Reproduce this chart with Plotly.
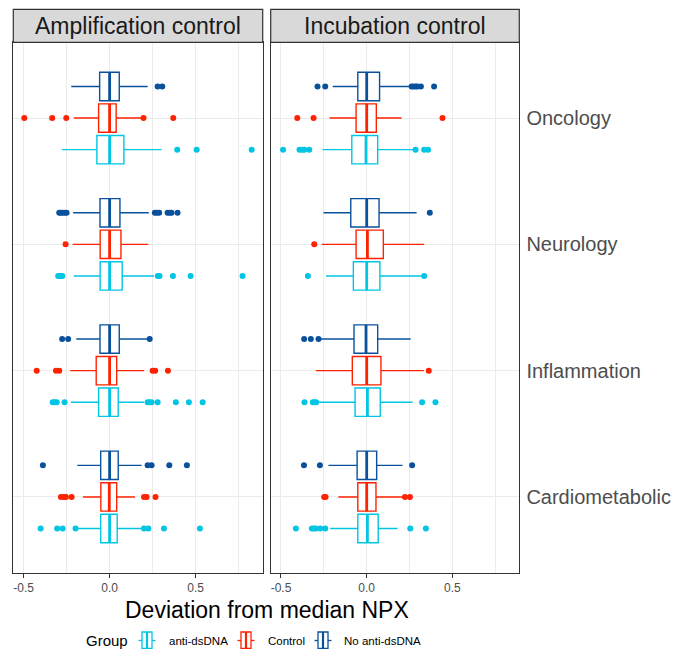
import plotly.graph_objects as go

W, H = 686, 649

# ---------------- data ----------------
categories = ["Cardiometabolic", "Inflammation", "Neurology", "Oncology"]
groups = ["anti-dsDNA", "Control", "No anti-dsDNA"]
panels = ["Amplification control", "Incubation control"]
group_colors = ["#00C5E3", "#FF2200", "#0A519C"]
x_tick_vals = [-0.5, 0.0, 0.5]
x_tick_text = ["-0.5", "0.0", "0.5"]
x_minor_vals = [-0.25, 0.25, 0.75]

# box statistics, lists ordered as `categories`
amp_anti = dict(lower=[-0.185, -0.225, -0.208, -0.276],
                q1=[-0.052, -0.064, -0.055, -0.074],
                median=[0.0, 0.0, 0.0, 0.0],
                q3=[0.044, 0.050, 0.073, 0.083],
                upper=[0.195, 0.201, 0.258, 0.302])
amp_ctrl = dict(lower=[-0.155, -0.229, -0.215, -0.208],
                q1=[-0.051, -0.078, -0.055, -0.064],
                median=[-0.002, 0.0, 0.0, 0.0],
                q3=[0.041, 0.041, 0.066, 0.038],
                upper=[0.147, 0.201, 0.225, 0.190])
amp_noanti = dict(lower=[-0.188, -0.194, -0.212, -0.223],
                  q1=[-0.052, -0.056, -0.056, -0.058],
                  median=[0.0, 0.0, 0.0, 0.0],
                  q3=[0.050, 0.056, 0.060, 0.056],
                  upper=[0.186, 0.225, 0.228, 0.221])
inc_anti = dict(lower=[-0.213, -0.281, -0.237, -0.258],
                q1=[-0.052, -0.068, -0.078, -0.087],
                median=[0.004, 0.004, 0.0, -0.004],
                q3=[0.067, 0.079, 0.077, 0.064],
                upper=[0.180, 0.267, 0.320, 0.270])
inc_ctrl = dict(lower=[-0.165, -0.297, -0.262, -0.217],
                q1=[-0.052, -0.084, -0.062, -0.062],
                median=[0.0, 0.0, 0.004, 0.0],
                q3=[0.054, 0.083, 0.097, 0.056],
                upper=[0.215, 0.333, 0.335, 0.203])
inc_noanti = dict(lower=[-0.223, -0.271, -0.252, -0.198],
                  q1=[-0.056, -0.074, -0.093, -0.052],
                  median=[0.0, -0.004, 0.0, 0.0],
                  q3=[0.058, 0.064, 0.072, 0.075],
                  upper=[0.209, 0.256, 0.291, 0.252])

# outliers, one list per category (same order as `categories`)
amp_anti_out = [[-0.401, -0.305, -0.273, -0.198, 0.200, 0.225, 0.316, 0.525],
                [-0.331, -0.320, -0.308, -0.262, 0.221, 0.232, 0.244, 0.279, 0.385, 0.461, 0.541],
                [-0.299, -0.290, -0.275, 0.280, 0.290, 0.368, 0.471, 0.773],
                [0.393, 0.506, 0.826]]
amp_ctrl_out = [[-0.283, -0.265, -0.254, -0.221, 0.200, 0.215, 0.267],
                [-0.424, -0.312, -0.293, 0.250, 0.265, 0.339],
                [-0.256],
                [-0.496, -0.334, -0.252, 0.197, 0.370]]
amp_noanti_out = [[-0.388, 0.221, 0.244, 0.347, 0.449],
                  [-0.276, -0.241, 0.233],
                  [-0.293, -0.283, -0.273, -0.260, -0.250, 0.263, 0.275, 0.288, 0.337, 0.350, 0.360, 0.395],
                  [0.279, 0.306]]
inc_anti_out = [[-0.413, -0.320, -0.308, -0.297, -0.271, -0.242, 0.254, 0.345],
                [-0.363, -0.314, -0.305, -0.295, 0.323, 0.401],
                [-0.343, 0.335],
                [-0.488, -0.392, -0.377, -0.363, -0.335, 0.285, 0.335, 0.358]]
inc_ctrl_out = [[-0.248, -0.240, 0.223, 0.252],
                [0.362],
                [-0.306],
                [-0.405, -0.310, 0.442]]
inc_noanti_out = [[-0.366, -0.273, 0.265],
                  [-0.365, -0.326, -0.281],
                  [0.368],
                  [-0.287, -0.242, 0.262, 0.272, 0.285, 0.295, 0.316, 0.393]]

panel_stats = [[amp_anti, amp_ctrl, amp_noanti], [inc_anti, inc_ctrl, inc_noanti]]
panel_outliers = [[amp_anti_out, amp_ctrl_out, amp_noanti_out],
                  [inc_anti_out, inc_ctrl_out, inc_noanti_out]]

# ---------------- layout constants ----------------
FONT = "Liberation Sans, Arial, sans-serif"
DODGE = 0.25
BOX_W = 0.225
X_RANGE = [-0.56, 0.89]
Y_RANGE = [0.4, len(categories) + 0.6]


def PX(x):
    return x / W


def PY(y):
    return 1 - y / H


X1_DOM = [PX(13.3), PX(262.7)]
X2_DOM = [PX(270.7), PX(519.3)]
Y_DOM = [PY(572.7), PY(42.3)]
STRIP = [PY(42.3), PY(9.3)]

fig = go.Figure()

for p_i in range(len(panels)):
    xa = "x" if p_i == 0 else "x2"
    ya = "y" if p_i == 0 else "y2"
    for g_i, g in enumerate(groups):
        st = panel_stats[p_i][g_i]
        col = group_colors[g_i]
        off = (g_i - 1) * DODGE
        pos = [c_i + 1 + off for c_i in range(len(categories))]
        fig.add_trace(go.Box(
            orientation="h", y=pos,
            q1=st["q1"], median=st["median"], q3=st["q3"],
            lowerfence=st["lower"], upperfence=st["upper"],
            width=BOX_W, whiskerwidth=0, boxpoints=False,
            line=dict(color=col, width=1.4), fillcolor="white",
            showlegend=False, hoverinfo="skip", xaxis=xa, yaxis=ya,
        ))
        # thicker median line (ggplot style)
        mx, my = [], []
        for m, p in zip(st["median"], pos):
            mx += [m, m, None]
            my += [p - BOX_W / 2, p + BOX_W / 2, None]
        fig.add_trace(go.Scatter(
            x=mx, y=my, mode="lines", line=dict(color=col, width=2.8),
            showlegend=False, hoverinfo="skip", xaxis=xa, yaxis=ya,
        ))
        # outliers
        ox, oy = [], []
        for vals, p in zip(panel_outliers[p_i][g_i], pos):
            ox += vals
            oy += [p] * len(vals)
        fig.add_trace(go.Scatter(
            x=ox, y=oy, mode="markers",
            marker=dict(color=col, size=6, line=dict(width=0)),
            showlegend=False, hoverinfo="skip", xaxis=xa, yaxis=ya,
        ))

xaxis_common = dict(
    range=X_RANGE, tickmode="array", tickvals=x_tick_vals, ticktext=x_tick_text,
    showgrid=True, gridcolor="#EBEBEB", gridwidth=1.1, zeroline=False,
    minor=dict(tickvals=x_minor_vals, showgrid=True, gridcolor="#EBEBEB", gridwidth=0.6, ticks=""),
    ticks="outside", ticklen=4, tickwidth=1, tickcolor="#333333",
    tickfont=dict(family=FONT, size=12, color="#4D4D4D"),
    showline=True, mirror=True, linecolor="#333333", linewidth=1.2,
)
yaxis_common = dict(
    range=Y_RANGE, tickmode="array", tickvals=list(range(1, len(categories) + 1)),
    ticktext=categories, showgrid=True, gridcolor="#EBEBEB", gridwidth=1.1,
    zeroline=False, ticks="", showline=True, mirror=True,
    linecolor="#333333", linewidth=1.2, domain=Y_DOM,
)

fig.update_layout(
    width=W, height=H, margin=dict(l=0, r=0, t=0, b=0),
    paper_bgcolor="white", plot_bgcolor="white", boxmode="overlay",
    showlegend=False,
    xaxis=dict(domain=X1_DOM, anchor="y", **xaxis_common),
    xaxis2=dict(domain=X2_DOM, anchor="y2", **xaxis_common),
    yaxis=dict(anchor="x", showticklabels=False, **yaxis_common),
    yaxis2=dict(anchor="x2", matches="y", side="right", showticklabels=True,
                ticklabelstandoff=2,
                tickfont=dict(family=FONT, size=20, color="#4D4D4D"),
                **yaxis_common),
)

shapes = []
annotations = []
# facet strips
for dom, title in zip([X1_DOM, X2_DOM], panels):
    shapes.append(dict(type="rect", xref="paper", yref="paper",
                       x0=dom[0], x1=dom[1], y0=STRIP[0], y1=STRIP[1],
                       fillcolor="#D9D9D9", line=dict(color="#333333", width=1.2)))
    annotations.append(dict(text=title, xref="paper", yref="paper",
                            x=(dom[0] + dom[1]) / 2, y=(STRIP[0] + STRIP[1]) / 2,
                            xanchor="center", yanchor="middle", showarrow=False,
                            font=dict(family=FONT, size=23, color="#1A1A1A")))

# x-axis title
annotations.append(dict(text="Deviation from median NPX", xref="paper", yref="paper",
                        x=PX(267), y=PY(610), xanchor="center", yanchor="middle",
                        showarrow=False, font=dict(family=FONT, size=23, color="black")))

# legend (drawn manually with ggplot-like box glyphs)
annotations.append(dict(text="Group", xref="paper", yref="paper",
                        x=PX(84), y=PY(640), xanchor="left", yanchor="middle",
                        showarrow=False, font=dict(family=FONT, size=15, color="black")))
key_x = [138.5, 237.5, 314.5]
label_x = [166.5, 265.5, 342.0]
ky0, ky1, kym = 632.0, 648.5, 640.5
for g_i, g in enumerate(groups):
    col = group_colors[g_i]
    x0 = key_x[g_i]
    shapes.append(dict(type="rect", xref="paper", yref="paper",
                       x0=PX(x0 + 3.5), x1=PX(x0 + 13.5), y0=PY(ky1), y1=PY(ky0),
                       fillcolor="white", line=dict(color=col, width=1.3)))
    shapes.append(dict(type="line", xref="paper", yref="paper",
                       x0=PX(x0 + 8.5), x1=PX(x0 + 8.5), y0=PY(ky1), y1=PY(ky0),
                       line=dict(color=col, width=2.2)))
    shapes.append(dict(type="line", xref="paper", yref="paper",
                       x0=PX(x0), x1=PX(x0 + 3.5), y0=PY(kym), y1=PY(kym),
                       line=dict(color=col, width=1.3)))
    shapes.append(dict(type="line", xref="paper", yref="paper",
                       x0=PX(x0 + 13.5), x1=PX(x0 + 17), y0=PY(kym), y1=PY(kym),
                       line=dict(color=col, width=1.3)))
    annotations.append(dict(text=g, xref="paper", yref="paper",
                            x=PX(label_x[g_i]), y=PY(641), xanchor="left", yanchor="middle",
                            showarrow=False, font=dict(family=FONT, size=11.5, color="black")))

fig.update_layout(shapes=shapes, annotations=annotations)

fig.write_html("out.html")
